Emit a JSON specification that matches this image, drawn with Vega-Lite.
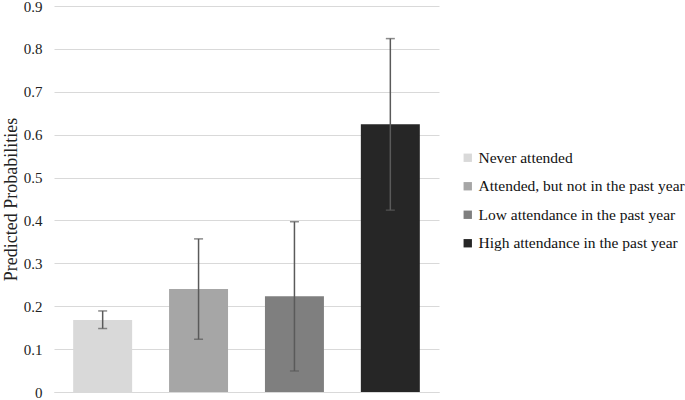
{
  "$schema": "https://vega.github.io/schema/vega-lite/v6.json",
  "width": 385,
  "height": 386,
  "autosize": {"type": "none"},
  "padding": {"left": 54, "top": 6, "right": 246, "bottom": 8},
  "background": "white",
  "config": {
    "view": {"stroke": null},
    "font": "Liberation Serif"
  },
  "data": {
    "values": [
      {"group": "Never attended", "p": 0.168, "lo": 0.148, "hi": 0.189},
      {"group": "Attended, but not in the past year", "p": 0.240, "lo": 0.123, "hi": 0.357},
      {"group": "Low attendance in the past year", "p": 0.223, "lo": 0.049, "hi": 0.397},
      {"group": "High attendance in the past year", "p": 0.624, "lo": 0.424, "hi": 0.824}
    ]
  },
  "encoding": {
    "x": {
      "field": "group",
      "type": "nominal",
      "sort": null,
      "scale": {"paddingInner": 0.385, "paddingOuter": 0.2},
      "axis": {"labels": false, "ticks": false, "title": null, "domainColor": "#d9d9d9", "domainWidth": 1}
    }
  },
  "layer": [
    {
      "mark": {"type": "bar"},
      "encoding": {
        "y": {
          "field": "p",
          "type": "quantitative",
          "scale": {"domain": [0, 0.9], "nice": false},
          "axis": {
            "values": [0, 0.1, 0.2, 0.3, 0.4, 0.5, 0.6, 0.7, 0.8, 0.9],
            "format": "~g",
            "domain": false,
            "ticks": false,
            "grid": true,
            "gridColor": "#d9d9d9",
            "gridWidth": 1,
            "labelFont": "Liberation Serif",
            "labelFontSize": 15,
            "labelColor": "#222222",
            "labelPadding": 12,
            "title": "Predicted Probabilities",
            "titleFont": "Liberation Serif",
            "titleFontSize": 18,
            "titleFontWeight": "normal",
            "titleColor": "#222222",
            "titlePadding": 3
          }
        },
        "color": {
          "field": "group",
          "type": "nominal",
          "sort": null,
          "scale": {
            "domain": ["Never attended", "Attended, but not in the past year", "Low attendance in the past year", "High attendance in the past year"],
            "range": ["#d9d9d9", "#a6a6a6", "#7f7f7f", "#262626"]
          },
          "legend": {
            "title": null,
            "orient": "none",
            "legendX": 406,
            "legendY": 144,
            "symbolType": "square",
            "symbolSize": 70,
            "symbolStrokeWidth": 0,
            "labelFont": "Liberation Serif",
            "labelFontSize": 15.5,
            "labelColor": "#111111",
            "labelLimit": 300,
            "rowPadding": 11.5,
            "labelOffset": 3
          }
        }
      }
    },
    {
      "mark": {"type": "rule", "color": "#5a5a5a", "strokeWidth": 1.5},
      "encoding": {
        "y": {"field": "lo", "type": "quantitative"},
        "y2": {"field": "hi"}
      }
    },
    {
      "mark": {"type": "tick", "color": "#5a5a5a", "size": 9, "thickness": 1.5, "orient": "horizontal"},
      "encoding": {"y": {"field": "lo", "type": "quantitative"}}
    },
    {
      "mark": {"type": "tick", "color": "#5a5a5a", "size": 9, "thickness": 1.5, "orient": "horizontal"},
      "encoding": {"y": {"field": "hi", "type": "quantitative"}}
    }
  ]
}
